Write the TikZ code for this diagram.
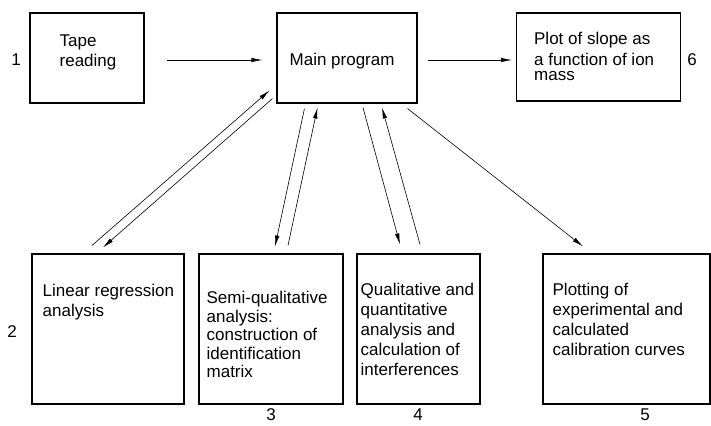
\documentclass[tikz,border=0pt]{standalone}
\usepackage{fontspec}
\setmainfont{Liberation Sans}
\usetikzlibrary{arrows.meta}
\begin{document}
\begin{tikzpicture}[x=1pt,y=-1pt,
	box/.style={draw, line width=1.1pt, minimum width=#1, inner sep=0pt},
	txt/.style={anchor=north west, align=left, inner sep=0pt, font=\fontsize{17}{19.5}\selectfont},
	num/.style={inner sep=0pt, font=\fontsize{17}{19.5}\selectfont},
	arr/.style={line width=0.6pt, -{Latex[length=11pt,width=4.5pt]}}]
	\useasboundingbox (0,0) rectangle (711,425);
	% upper row
	\node[box=114pt, minimum height=90pt] (tape) at (87,58) {};
	\node[box=140pt, minimum height=90pt] (main) at (347,58) {};
	\node[box=164pt, minimum height=88pt] (slope) at (598.5,57) {};
	% lower row
	\node[box=152pt, minimum height=150pt] (linreg) at (108,329) {};
	\node[box=144pt, minimum height=150pt] (semiq) at (271,329) {};
	\node[box=123pt, minimum height=150pt] (qual) at (418.5,329) {};
	\node[box=167pt, minimum height=150pt] (plotcal) at (626.5,329) {};
	% texts
	\node[txt, font=\fontsize{17}{20}\selectfont] (tapeT) at ([shift={(30,22)}]tape.north west) {Tape\\reading};
	\node[txt, anchor=base west] (mainT) at ([shift={(13,53)}]main.north west) {Main program};
	\node[txt] (slopeT) at ([shift={(18,20)}]slope.north west) {Plot of slope as\\[1pt]a function of ion\\[-4pt]mass};
	\node[txt] (linregT) at ([shift={(11,31)}]linreg.north west) {Linear regression\\analysis};
	\node[txt, font=\fontsize{17}{18.5}\selectfont] (semiqT) at ([shift={(8,38)}]semiq.north west) {Semi-qualitative\\analysis:\\construction of\\identification\\matrix};
	\node[txt, font=\fontsize{17}{20}\selectfont] (qualT) at ([shift={(4,30)}]qual.north west) {Qualitative and\\quantitative\\analysis and\\calculation of\\interferences};
	\node[txt, font=\fontsize{17}{20}\selectfont] (plotcalT) at ([shift={(10,30)}]plotcal.north west) {Plotting of\\experimental and\\calculated\\calibration curves};
	% numbers
	\node[num] (n1) at (16,60) {1};
	\node[num] (n2) at (12,332) {2};
	\node[num] (n3) at (271,415) {3};
	\node[num] (n4) at (418,415) {4};
	\node[num] (n5) at (645,415) {5};
	\node[num] (n6) at (692,60) {6};
	% connectors
	\draw[arr] ([shift={(22,2)}]tape.east) -- ([shift={(-14,2)}]main.west);
	\draw[arr] ([shift={(10,2)}]main.east) -- ([shift={(-4,3)}]slope.west);
	\draw[arr] ([shift={(-16,-8)}]linreg.north) -- ([shift={(-7,-13)}]main.south west);
	\draw[arr] ([shift={(-4,-5)}]main.south west) -- ([shift={(-5,-6)}]linreg.north);
	\draw[arr] ([shift={(28,5)}]main.south west) -- ([shift={(4,-7)}]semiq.north);
	\draw[arr] ([shift={(17,-8)}]semiq.north) -- ([shift={(41,4)}]main.south west);
	\draw[arr] ([shift={(16,4)}]main.south) -- ([shift={(-18.5,-9)}]qual.north);
	\draw[arr] ([shift={(1.5,-9)}]qual.north) -- ([shift={(35,4)}]main.south);
	\draw[arr] ([shift={(-10,5)}]main.south east) -- ([shift={(-43.5,-7)}]plotcal.north);
\end{tikzpicture}
\end{document}
